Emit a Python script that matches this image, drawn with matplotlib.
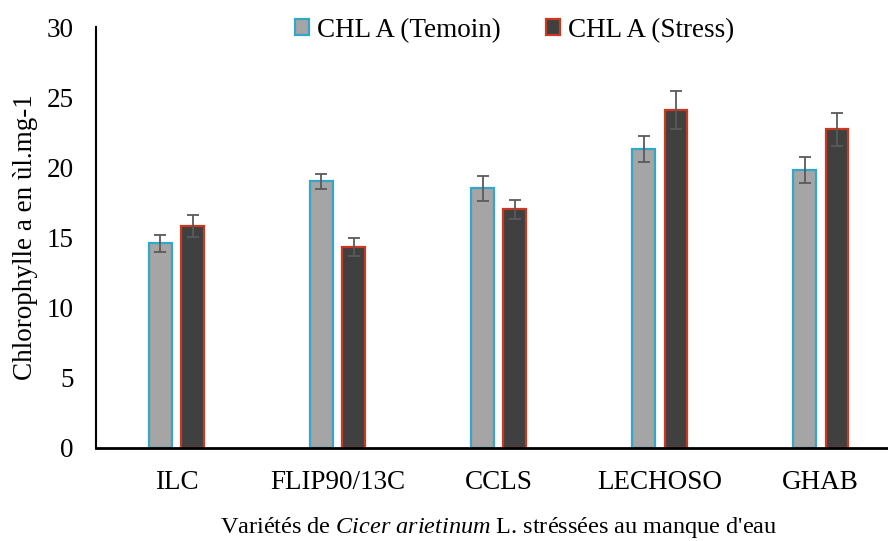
import numpy as np
import matplotlib.pyplot as plt

plt.rcParams['font.family'] = ['Liberation Serif', 'DejaVu Serif']
plt.rcParams['mathtext.fontset'] = 'custom'
plt.rcParams['mathtext.rm'] = 'Liberation Serif'
plt.rcParams['mathtext.it'] = 'Liberation Serif:italic'

# Data
varietes = ['ILC', 'FLIP90/13C', 'CCLS', 'LECHOSO', 'GHAB']
temoin = [14.6, 19.0, 18.5, 21.3, 19.8]
temoin_err = [0.6, 0.55, 0.9, 0.95, 0.95]
stress = [15.8, 14.3, 17.0, 24.1, 22.7]
stress_err = [0.8, 0.65, 0.7, 1.35, 1.15]

x = np.arange(len(varietes))
width = 0.14
offset = 0.1

fig = plt.figure(figsize=(8.88, 5.41), dpi=100)
ax = fig.add_axes([0.108, 0.172, 0.907, 0.778])

err_kw = dict(ecolor='#5a5a5a', elinewidth=1.3, capsize=4.5, capthick=1.3)
ax.bar(x - offset, temoin, width, yerr=temoin_err, color='#a5a5a5',
       edgecolor='#35a7c6', linewidth=1.6, label='CHL A (Temoin)', error_kw=err_kw)
ax.bar(x + offset, stress, width, yerr=stress_err, color='#404040',
       edgecolor='#c9381f', linewidth=1.6, label='CHL A (Stress)', error_kw=err_kw)

ax.set_xlim(-0.5, len(varietes) - 0.5)
ax.set_ylim(0, 30)
ax.set_yticks(np.arange(0, 31, 5))
ax.set_xticks(x)
ax.set_xticklabels(varietes)
ax.tick_params(axis='both', length=0, labelsize=19.5)
ax.tick_params(axis='y', pad=16)
ax.tick_params(axis='x', pad=16)

for side in ['top', 'right']:
    ax.spines[side].set_visible(False)
ax.spines['left'].set_linewidth(1.5)
ax.spines['bottom'].set_linewidth(2)

ax.set_ylabel('Chlorophylle a en ùl.mg-1', fontsize=19.5, labelpad=6)
ax.set_xlabel(r"Variétés de $\mathit{Cicer\ arietinum}$ L. stréssées au manque d'eau",
              fontsize=17.5, labelpad=14)

ax.legend(loc='upper center', bbox_to_anchor=(0.52, 1.08), ncol=2, frameon=False,
          fontsize=19.5, handlelength=0.5, handleheight=0.5, handletextpad=0.3,
          columnspacing=1.7)

fig.savefig('out.png', dpi=100)
